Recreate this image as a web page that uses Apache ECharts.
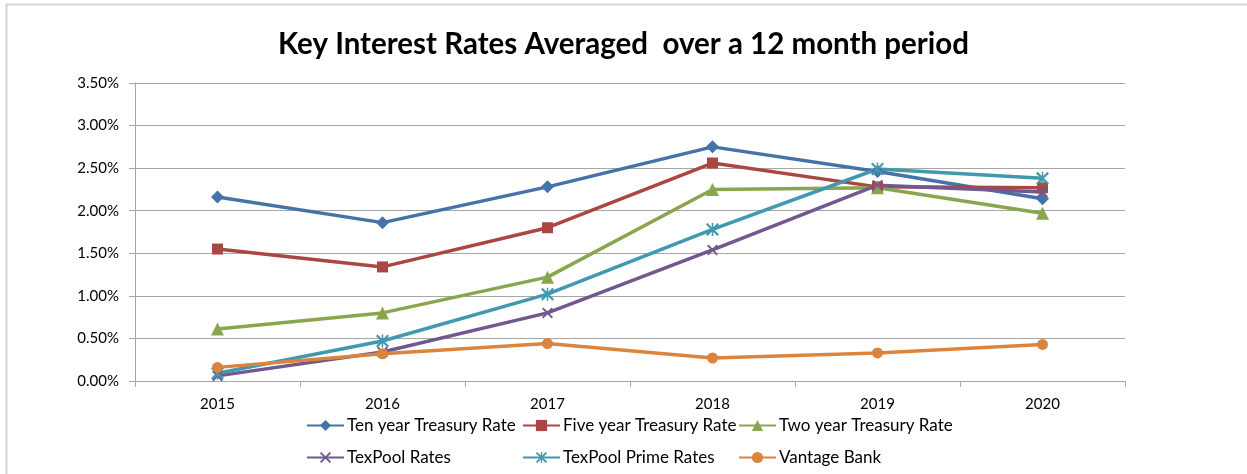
<!DOCTYPE html>
<html>
<head>
<meta charset="utf-8">
<script src="https://cdn.jsdelivr.net/npm/echarts@6/dist/echarts.min.js"></script>
<style>
html,body{margin:0;padding:0;background:#fff;}
#chart{width:1247px;height:474px;}
</style>
</head>
<body>
<div id="chart"></div>
<script>
const years = ['2015','2016','2017','2018','2019','2020'];
const tenYear = [2.16, 1.86, 2.28, 2.75, 2.46, 2.14];
const fiveYear = [1.55, 1.34, 1.80, 2.56, 2.28, 2.27];
const twoYear = [0.61, 0.80, 1.22, 2.25, 2.27, 1.97];
const texPool = [0.06, 0.34, 0.80, 1.54, 2.30, 2.22];
const texPoolPrime = [0.09, 0.47, 1.02, 1.78, 2.49, 2.38];
const vantage = [0.16, 0.32, 0.44, 0.27, 0.33, 0.43];

const names = ['Ten year Treasury Rate','Five year Treasury Rate','Two year Treasury Rate','TexPool Rates','TexPool Prime Rates','Vantage Bank'];
const colors = ['#4572A7','#AA4643','#89A54E','#71588F','#4198AF','#DB843D'];
const dataSets = [tenYear, fiveYear, twoYear, texPool, texPoolPrime, vantage];

const xPath = 'path://M0,1.2 L1.2,0 L5,3.8 L8.8,0 L10,1.2 L6.2,5 L10,8.8 L8.8,10 L5,6.2 L1.2,10 L0,8.8 L3.8,5 Z';
const starPath = 'path://M0,1.2 L1.2,0 L5,3.8 L8.8,0 L10,1.2 L6.2,5 L10,8.8 L8.8,10 L5,6.2 L1.2,10 L0,8.8 L3.8,5 Z M4.4,0 L5.6,0 L5.6,10 L4.4,10 Z';
const symbols = ['diamond','rect','triangle',xPath,starPath,'circle'];
const symSizes = [13,11,13,11,13,11];

const font = 'Lato';
const legendPos = [[306,417],[522,417],[738,417],[306,449],[522,449],[738,449]];

const chart = echarts.init(document.getElementById('chart'), null, {renderer:'canvas'});
chart.setOption({
  animation:false,
  backgroundColor:'#fff',
  title:{
    text:'Key Interest Rates Averaged  over a 12 month period',
    left:'center', top:24,
    textStyle:{fontFamily:font, fontWeight:'bold', fontSize:29.5, color:'#000'}
  },
  graphic:[{type:'rect', shape:{x:6.5,y:4.5,width:1400,height:700}, style:{fill:'none', stroke:'#d4d4d4', lineWidth:2}, silent:true}],
  legend: names.map((n,i)=>({
    data:[n], left:legendPos[i][0], top:legendPos[i][1],
    itemWidth:37, itemHeight:14, padding:0,
    textStyle:{fontFamily:font, fontSize:17, color:'#000', padding:[0,0,0,-2]}
  })),
  grid:{left:135, right:122, top:83, bottom:93, containLabel:false},
  xAxis:{
    type:'category', data:years, boundaryGap:true,
    axisLine:{show:true, lineStyle:{color:'#a6a6a6', width:1}},
    axisTick:{show:true, length:6, lineStyle:{color:'#a6a6a6'}},
    axisLabel:{margin:16, fontFamily:font, fontSize:15, color:'#000'}
  },
  yAxis:{
    type:'value', min:0, max:3.5, interval:0.5,
    axisLine:{show:true, lineStyle:{color:'#a6a6a6', width:1}},
    axisTick:{show:true, length:6, lineStyle:{color:'#a6a6a6'}},
    splitLine:{show:true, lineStyle:{color:'#a6a6a6', width:1}},
    axisLabel:{margin:16, fontFamily:font, fontSize:15, color:'#000', formatter:v=>v.toFixed(2)+'%'}
  },
  series: names.map((n,i)=>({
    name:n, type:'line', data:dataSets[i],
    symbol:symbols[i], symbolSize:symSizes[i], showAllSymbol:true,
    lineStyle:{color:colors[i], width:3.5},
    itemStyle:{color:colors[i], borderWidth:0},
    emphasis:{disabled:true}
  }))
});
</script>
</body>
</html>
